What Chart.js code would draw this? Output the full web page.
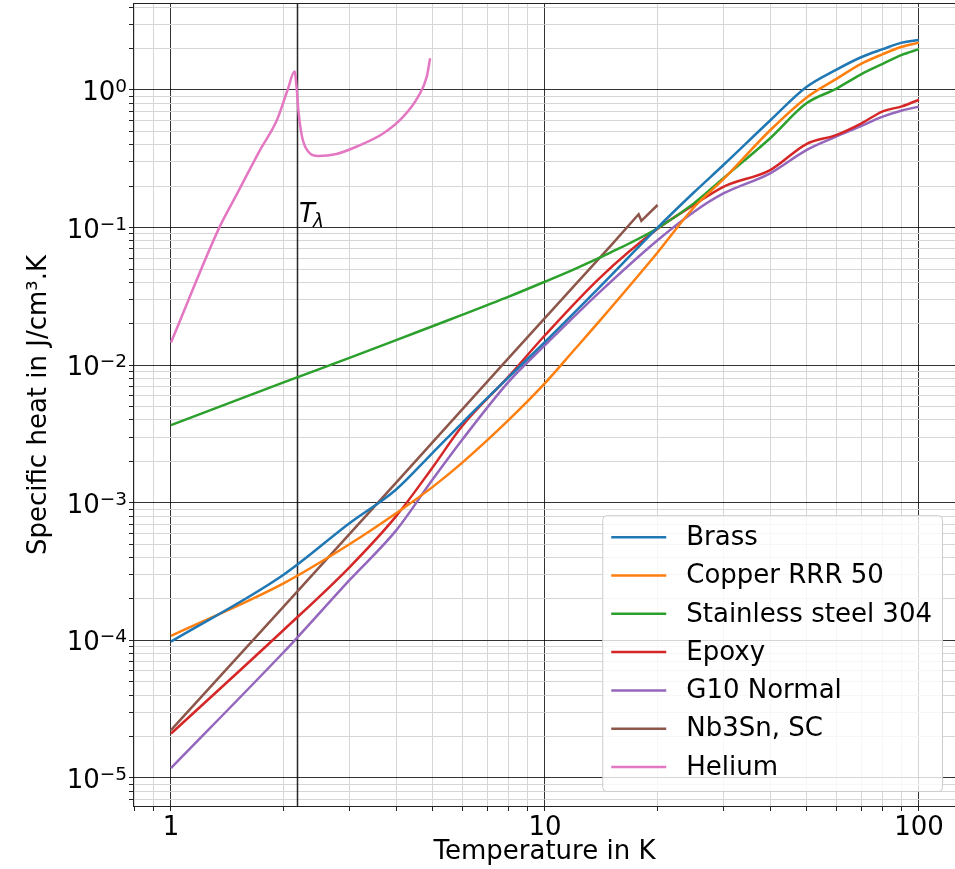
<!DOCTYPE html>
<html>
<head>
<meta charset="utf-8">
<script src="https://cdn.jsdelivr.net/npm/chart.js@4/dist/chart.umd.min.js"></script>
<style>
  body { margin: 0; background: #fff; }
  canvas { display: block; }
</style>
</head>
<body>
<canvas id="myChart" width="955" height="869"></canvas>
<script>
// temperatures (K) and specific heat (J/cm3.K)
const tBrass = [1, 2, 3, 4, 5, 6, 8, 10, 14, 20, 25, 30, 40, 50, 60, 70, 80, 90, 100]
const cBrass = [9.8e-5, 3.0e-4, 7.1e-4, 1.25e-3, 2.3e-3, 3.8e-3, 8.2e-3, 0.0148, 0.037, 0.10, 0.18, 0.285, 0.60, 1.05, 1.40, 1.73, 1.98, 2.21, 2.31]

const tCopper = [1, 2, 3, 4, 5, 6, 8, 10, 12, 14, 20, 25, 30, 40, 50, 60, 70, 80, 90, 100]
const cCopper = [1.08e-4, 2.6e-4, 5.0e-4, 8.4e-4, 1.3e-3, 1.95e-3, 4.0e-3, 7.4e-3, 0.013, 0.021, 0.066, 0.14, 0.225, 0.51, 0.88, 1.20, 1.55, 1.82, 2.06, 2.21]

const tSteel = [1, 2, 3, 4, 5, 6, 8, 10, 12, 15, 20, 25, 30, 40, 50, 60, 70, 80, 90, 100]
const cSteel = [3.67e-3, 7.5e-3, 0.0113, 0.0152, 0.0192, 0.0232, 0.0315, 0.0405, 0.050, 0.066, 0.099, 0.15, 0.229, 0.446, 0.80, 1.02, 1.30, 1.55, 1.80, 1.98]

const tEpoxy = [1, 2, 3, 4, 5, 6, 8, 10, 14, 20, 25, 30, 40, 50, 60, 70, 80, 90, 100]
const cEpoxy = [2.1e-5, 1.19e-4, 3.4e-4, 8.0e-4, 1.8e-3, 3.6e-3, 8.3e-3, 0.0165, 0.043, 0.098, 0.146, 0.198, 0.262, 0.405, 0.47, 0.57, 0.70, 0.76, 0.85]

const tG10 = [1, 2, 2.17, 3, 4, 5, 6, 8, 10, 14, 20, 25, 30, 40, 50, 60, 70, 80, 90, 100]
const cG10 = [1.18e-5, 8.2e-5, 1.04e-4, 2.74e-4, 6.3e-4, 1.47e-3, 2.86e-3, 7.6e-3, 0.014, 0.034, 0.081, 0.13, 0.177, 0.248, 0.366, 0.458, 0.547, 0.64, 0.71, 0.757]

const tNb3Sn = [1, 2, 4, 8, 12, 15, 17.8, 18.1, 20]
const cNb3Sn = [2.23e-5, 1.76e-4, 1.4e-3, 0.0113, 0.038, 0.074, 0.125, 0.112, 0.146]

const tHelium = [1, 1.35, 1.5, 1.73, 1.92, 2.05, 2.14, 2.17, 2.19, 2.24, 2.33, 2.48, 2.77, 3.13, 3.7, 4.18, 4.58, 4.83, 4.93]
const cHelium = [0.0146, 0.1016, 0.175, 0.366, 0.605, 1.0, 1.36, 1.0, 0.72, 0.46, 0.356, 0.331, 0.343, 0.387, 0.485, 0.64, 0.894, 1.25, 1.70]

const labels = ['Brass', 'Copper RRR 50', 'Stainless steel 304', 'Epoxy', 'G10 Normal', 'Nb3Sn, SC', 'Helium']
const colors = ['#1f77b4', '#ff7f0e', '#2ca02c', '#d62728', '#9467bd', '#8c564b', '#e377c2']
const temps = [tBrass, tCopper, tSteel, tEpoxy, tG10, tNb3Sn, tHelium]
const heats = [cBrass, cCopper, cSteel, cEpoxy, cG10, cNb3Sn, cHelium]

const xTickValues = [1, 10, 100]
const xTickLabels = ['1', '10', '100']
const yTickExponents = [-5, -4, -3, -2, -1, 0]

const lambdaT = 2.17
const lambdaLabelPos = [2.2, 0.11]

const FONT = '"DejaVu Sans", sans-serif'
const FS = 26
const xMin = Math.pow(10, -0.0989), xMax = Math.pow(10, 2.0963)
const yMin = Math.pow(10, -5.2035), yMax = Math.pow(10, 0.625)
const majorGrid = 'rgba(0,0,0,0.8)'
const minorGrid = '#d6d6d6'

const isPow10 = (v) => Math.abs(Math.log10(v) - Math.round(Math.log10(v))) < 1e-6

function logTicks(min, max) {
  const out = []
  for (let e = Math.floor(Math.log10(min)); e <= Math.ceil(Math.log10(max)); e++) {
    for (let k = 1; k <= 9; k++) {
      const v = k * Math.pow(10, e)
      if (v >= min && v <= max) out.push({ value: v })
    }
  }
  return out
}

const datasets = labels.map((label, i) => ({
  label: label,
  data: temps[i].map((t, j) => ({ x: t, y: heats[i][j] })),
  borderColor: colors[i],
  backgroundColor: colors[i],
  borderWidth: 2.5,
  pointRadius: 0,
  // the Nb3Sn points sit on a straight line with a small step, draw it unsmoothed
  cubicInterpolationMode: label === 'Nb3Sn, SC' ? 'default' : 'monotone',
  tension: 0,
  fill: false
}))

const extras = {
  id: 'extras',
  beforeDatasetsDraw(chart) {
    const { ctx, chartArea: ca, scales: { x } } = chart
    const px = Math.round(x.getPixelForValue(lambdaT)) + 0.5
    ctx.save()
    ctx.strokeStyle = 'rgba(0,0,0,0.85)'
    ctx.lineWidth = 1.5
    ctx.beginPath()
    ctx.moveTo(px, ca.top)
    ctx.lineTo(px, ca.bottom)
    ctx.stroke()
    ctx.restore()
  },
  afterDraw(chart) {
    const { ctx, chartArea: ca, scales: { x, y } } = chart
    ctx.save()
    // frame
    ctx.strokeStyle = '#222'
    ctx.lineWidth = 1
    ctx.strokeRect(ca.left - 0.5, ca.top - 0.5, ca.right - ca.left + 1, ca.bottom - ca.top + 1)

    // y tick labels 10^n
    ctx.fillStyle = '#000'
    ctx.textBaseline = 'alphabetic'
    ctx.textAlign = 'left'
    yTickExponents.forEach((e) => {
      const py = y.getPixelForValue(Math.pow(10, e))
      const exp = e === 0 ? '0' : '\u2212' + Math.abs(e)
      ctx.font = FS + 'px ' + FONT
      const w1 = ctx.measureText('10').width
      ctx.font = '18.5px ' + FONT
      const w2 = ctx.measureText(exp).width
      const right = ca.left - 7
      ctx.font = FS + 'px ' + FONT
      ctx.fillText('10', right - w2 - w1, py + 10)
      ctx.font = '18.5px ' + FONT
      ctx.fillText(exp, right - w2, py + 2)
    })

    // T lambda label
    const lx = x.getPixelForValue(lambdaLabelPos[0])
    const ly = y.getPixelForValue(lambdaLabelPos[1])
    ctx.font = 'italic ' + FS + 'px ' + FONT
    ctx.fillText('T', lx, ly)
    const wT = ctx.measureText('T').width
    ctx.font = 'italic 18.5px ' + FONT
    ctx.fillText('\u03bb', lx + wT - 2, ly + 5)

    // legend
    ctx.font = FS + 'px ' + FONT
    const maxW = Math.max(...labels.map((l) => ctx.measureText(l).width))
    const rowH = 38.3
    const right = ca.right - 13
    const bottom = ca.bottom - 15
    const top = bottom - (labels.length - 1) * rowH - 46
    const left = right - (9 + 55 + 20 + maxW + 10)
    ctx.beginPath()
    ctx.roundRect(left + 0.5, top + 0.5, right - left, bottom - top, 4)
    ctx.fillStyle = 'rgba(255,255,255,0.8)'
    ctx.fill()
    ctx.strokeStyle = '#cccccc'
    ctx.lineWidth = 1
    ctx.stroke()
    ctx.textBaseline = 'middle'
    labels.forEach((l, i) => {
      const cy = top + 22 + i * rowH
      ctx.strokeStyle = colors[i]
      ctx.lineWidth = 2.5
      ctx.beginPath()
      ctx.moveTo(left + 9, cy)
      ctx.lineTo(left + 64, cy)
      ctx.stroke()
      ctx.fillStyle = '#000'
      ctx.fillText(l, left + 84, cy + 1)
    })
    ctx.restore()
  }
}

const config = {
  type: 'line',
  data: { datasets: datasets },
  options: {
    responsive: false,
    animation: false,
    devicePixelRatio: 1,
    layout: { padding: { top: 4, right: 0, left: 0, bottom: 0 } },
    plugins: {
      legend: { display: false },
      tooltip: { enabled: false }
    },
    scales: {
      x: {
        type: 'logarithmic',
        min: xMin,
        max: xMax,
        bounds: 'data',
        afterBuildTicks: (s) => { s.ticks = logTicks(xMin, xMax) },
        afterFit: (s) => { s.height = 63; s.paddingLeft = 0; s.paddingRight = 0 },
        border: { display: false },
        grid: {
          color: (c) => (c.tick && isPow10(c.tick.value) ? majorGrid : minorGrid),
          tickColor: '#222',
          tickLength: 5,
          lineWidth: 1
        },
        ticks: {
          autoSkip: false,
          maxRotation: 0,
          minRotation: 0,
          padding: 2,
          color: '#000',
          font: { family: FONT, size: FS },
          callback: (v) => {
            const i = xTickValues.findIndex((t) => Math.abs(t - v) < 1e-9 * t)
            return i >= 0 ? xTickLabels[i] : ''
          }
        },
        title: {
          display: true,
          text: 'Temperature in K',
          color: '#000',
          font: { family: FONT, size: FS },
          padding: { top: 0, bottom: 1 }
        }
      },
      y: {
        type: 'logarithmic',
        min: yMin,
        max: yMax,
        bounds: 'data',
        afterBuildTicks: (s) => { s.ticks = logTicks(yMin, yMax) },
        afterFit: (s) => { s.width = 134; s.paddingTop = 0; s.paddingBottom = 0 },
        border: { display: false },
        grid: {
          color: (c) => (c.tick && isPow10(c.tick.value) ? majorGrid : minorGrid),
          tickColor: '#222',
          tickLength: 5,
          lineWidth: 1
        },
        ticks: {
          autoSkip: false,
          color: '#000',
          font: { family: FONT, size: FS },
          callback: () => ''
        },
        title: {
          display: true,
          text: 'Specific heat in J/cm\u00b3.K',
          color: '#000',
          font: { family: FONT, size: FS },
          padding: { top: 24, bottom: 0 }
        }
      }
    }
  },
  plugins: [extras]
}

const myChart = new Chart(document.getElementById('myChart'), config)
</script>
</body>
</html>
